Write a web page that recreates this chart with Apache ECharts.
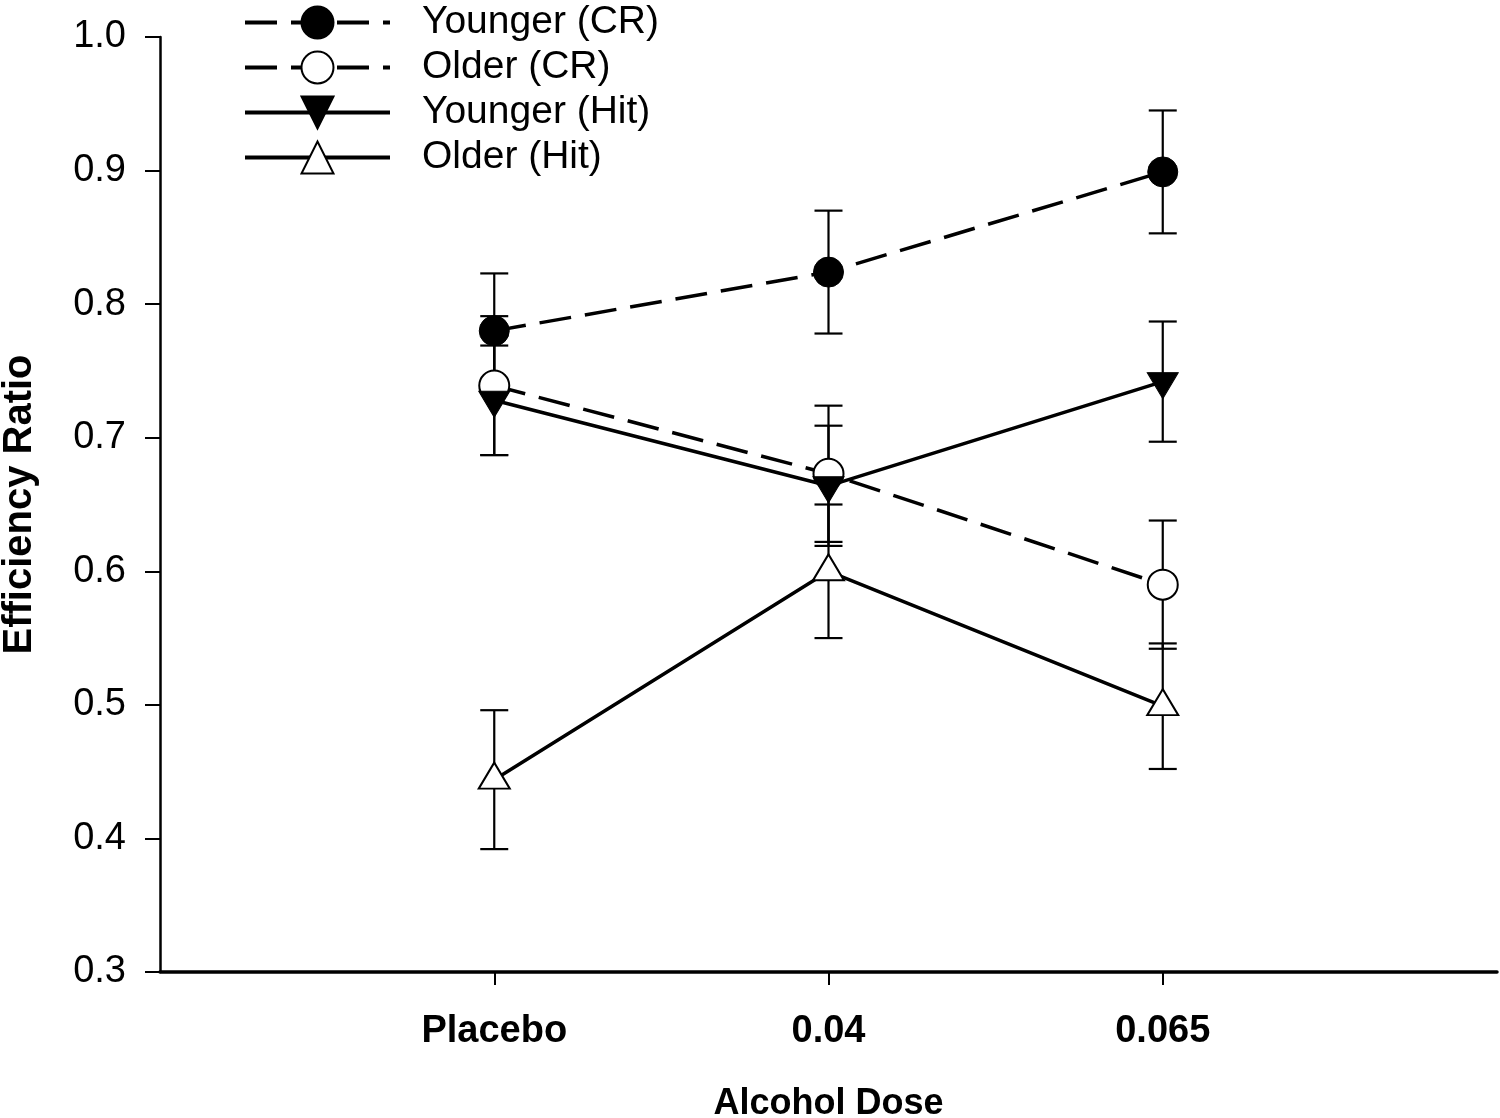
<!DOCTYPE html>
<html>
<head>
<meta charset="utf-8">
<script src="https://cdn.jsdelivr.net/npm/echarts@6/dist/echarts.min.js"></script>
<style>
html,body{margin:0;padding:0;background:#fff;}
#chart{width:1500px;height:1118px;}
</style>
</head>
<body>
<div id="chart"></div>
<script>
const categories = ['', 'Placebo', '0.04', '0.065', ''];
const doses = ['Placebo', '0.04', '0.065'];
const yTickMin = 0.3, yTickMax = 1.0, yTickStep = 0.1;

const youngerCR = [0.780, 0.824, 0.899];
const youngerCRErr = [0.043, 0.046, 0.046];
const olderCR = [0.739, 0.673, 0.590];
const olderCRErr = [0.052, 0.051, 0.048];
const youngerHit = [0.728, 0.664, 0.742];
const youngerHitErr = [0.041, 0.045, 0.045];
const olderHit = [0.444, 0.600, 0.499];
const olderHitErr = [0.052, 0.050, 0.047];

const FONT = 'Liberation Sans, Arial, sans-serif';

function pts(vals) { return doses.map((d, i) => [d, vals[i]]); }
function errs(vals, e) { return doses.map((d, i) => [d, vals[i] - e[i], vals[i] + e[i]]); }

function errorSeries(vals, e) {
  return {
    type: 'custom',
    silent: true,
    z: 1,
    data: errs(vals, e),
    encode: { x: 0, y: [1, 2] },
    renderItem: function (params, api) {
      const x = api.value(0);
      const lo = api.coord([x, api.value(1)]);
      const hi = api.coord([x, api.value(2)]);
      const w = 14;
      const st = { stroke: '#000', lineWidth: 2.2 };
      return {
        type: 'group',
        children: [
          { type: 'line', shape: { x1: lo[0], y1: lo[1], x2: hi[0], y2: hi[1] }, style: st },
          { type: 'line', shape: { x1: lo[0] - w, y1: lo[1], x2: lo[0] + w, y2: lo[1] }, style: st },
          { type: 'line', shape: { x1: hi[0] - w, y1: hi[1], x2: hi[0] + w, y2: hi[1] }, style: st }
        ]
      };
    }
  };
}

const dashed = [32, 14];

const option = {
  backgroundColor: '#fff',
  animation: false,
  textStyle: { fontFamily: FONT, color: '#000' },
  grid: { left: 160, right: 3, top: 37, bottom: 146, containLabel: false, outerBoundsMode: 'none' },
  legend: {
    orient: 'vertical',
    left: 243,
    top: 3,
    itemWidth: 145,
    itemHeight: 40,
    itemGap: 6,
    padding: 0,
    selectedMode: false,
    lineStyle: { width: 4 },
    textStyle: { fontFamily: FONT, fontSize: 39, color: '#000', padding: [0, 0, 0, 27] },
    data: ['Younger (CR)', 'Older (CR)', 'Younger (Hit)', 'Older (Hit)']
  },
  xAxis: {
    type: 'category',
    data: categories,
    boundaryGap: false,
    name: 'Alcohol Dose',
    nameLocation: 'middle',
    nameGap: 114,
    nameTextStyle: { fontFamily: FONT, fontSize: 36, fontWeight: 'bold', color: '#000' },
    axisLine: { lineStyle: { color: '#000', width: 3.5 } },
    axisTick: { show: true, length: 13, lineStyle: { color: '#000', width: 2 },
      interval: function (i, v) { return v !== ''; } },
    axisLabel: { margin: 41, fontFamily: FONT, fontSize: 38, fontWeight: 'bold', color: '#000',
      interval: function (i, v) { return v !== ''; } },
    splitLine: { show: false }
  },
  yAxis: {
    type: 'value',
    min: yTickMin,
    max: yTickMax,
    interval: yTickStep,
    name: 'Efficiency Ratio',
    nameLocation: 'middle',
    nameGap: 120,
    nameTextStyle: { fontFamily: FONT, fontSize: 40, fontWeight: 'bold', color: '#000' },
    axisLine: { show: true, lineStyle: { color: '#000', width: 2.5 } },
    axisTick: { show: true, length: 15, lineStyle: { color: '#000', width: 2 } },
    axisLabel: { margin: 34, fontFamily: FONT, fontSize: 38, color: '#000',
      formatter: function (v) { return v.toFixed(1); } },
    splitLine: { show: false }
  },
  series: [
    errorSeries(youngerCR, youngerCRErr),
    errorSeries(olderCR, olderCRErr),
    errorSeries(youngerHit, youngerHitErr),
    errorSeries(olderHit, olderHitErr),
    {
      name: 'Younger (CR)', type: 'line', z: 3, data: pts(youngerCR),
      symbol: 'circle', symbolSize: 30,
      lineStyle: { color: '#000', width: 3.5, type: dashed },
      itemStyle: { color: '#000', borderColor: '#000', borderWidth: 1 }
    },
    {
      name: 'Older (CR)', type: 'line', z: 3, data: pts(olderCR),
      symbol: 'circle', symbolSize: 30,
      lineStyle: { color: '#000', width: 3.5, type: dashed },
      itemStyle: { color: '#fff', borderColor: '#000', borderWidth: 2 }
    },
    {
      name: 'Younger (Hit)', type: 'line', z: 4, data: pts(youngerHit),
      symbol: 'triangle', symbolSize: [31, 26], symbolRotate: 180, symbolOffset: [0, 4],
      lineStyle: { color: '#000', width: 3.5 },
      itemStyle: { color: '#000', borderColor: '#000', borderWidth: 1 }
    },
    {
      name: 'Older (Hit)', type: 'line', z: 4, data: pts(olderHit),
      symbol: 'triangle', symbolSize: [31, 26], symbolOffset: [0, -4],
      lineStyle: { color: '#000', width: 3.5 },
      itemStyle: { color: '#fff', borderColor: '#000', borderWidth: 2 }
    }
  ]
};

const chart = echarts.init(document.getElementById('chart'), null, { renderer: 'canvas' });
chart.setOption(option);
</script>
</body>
</html>
